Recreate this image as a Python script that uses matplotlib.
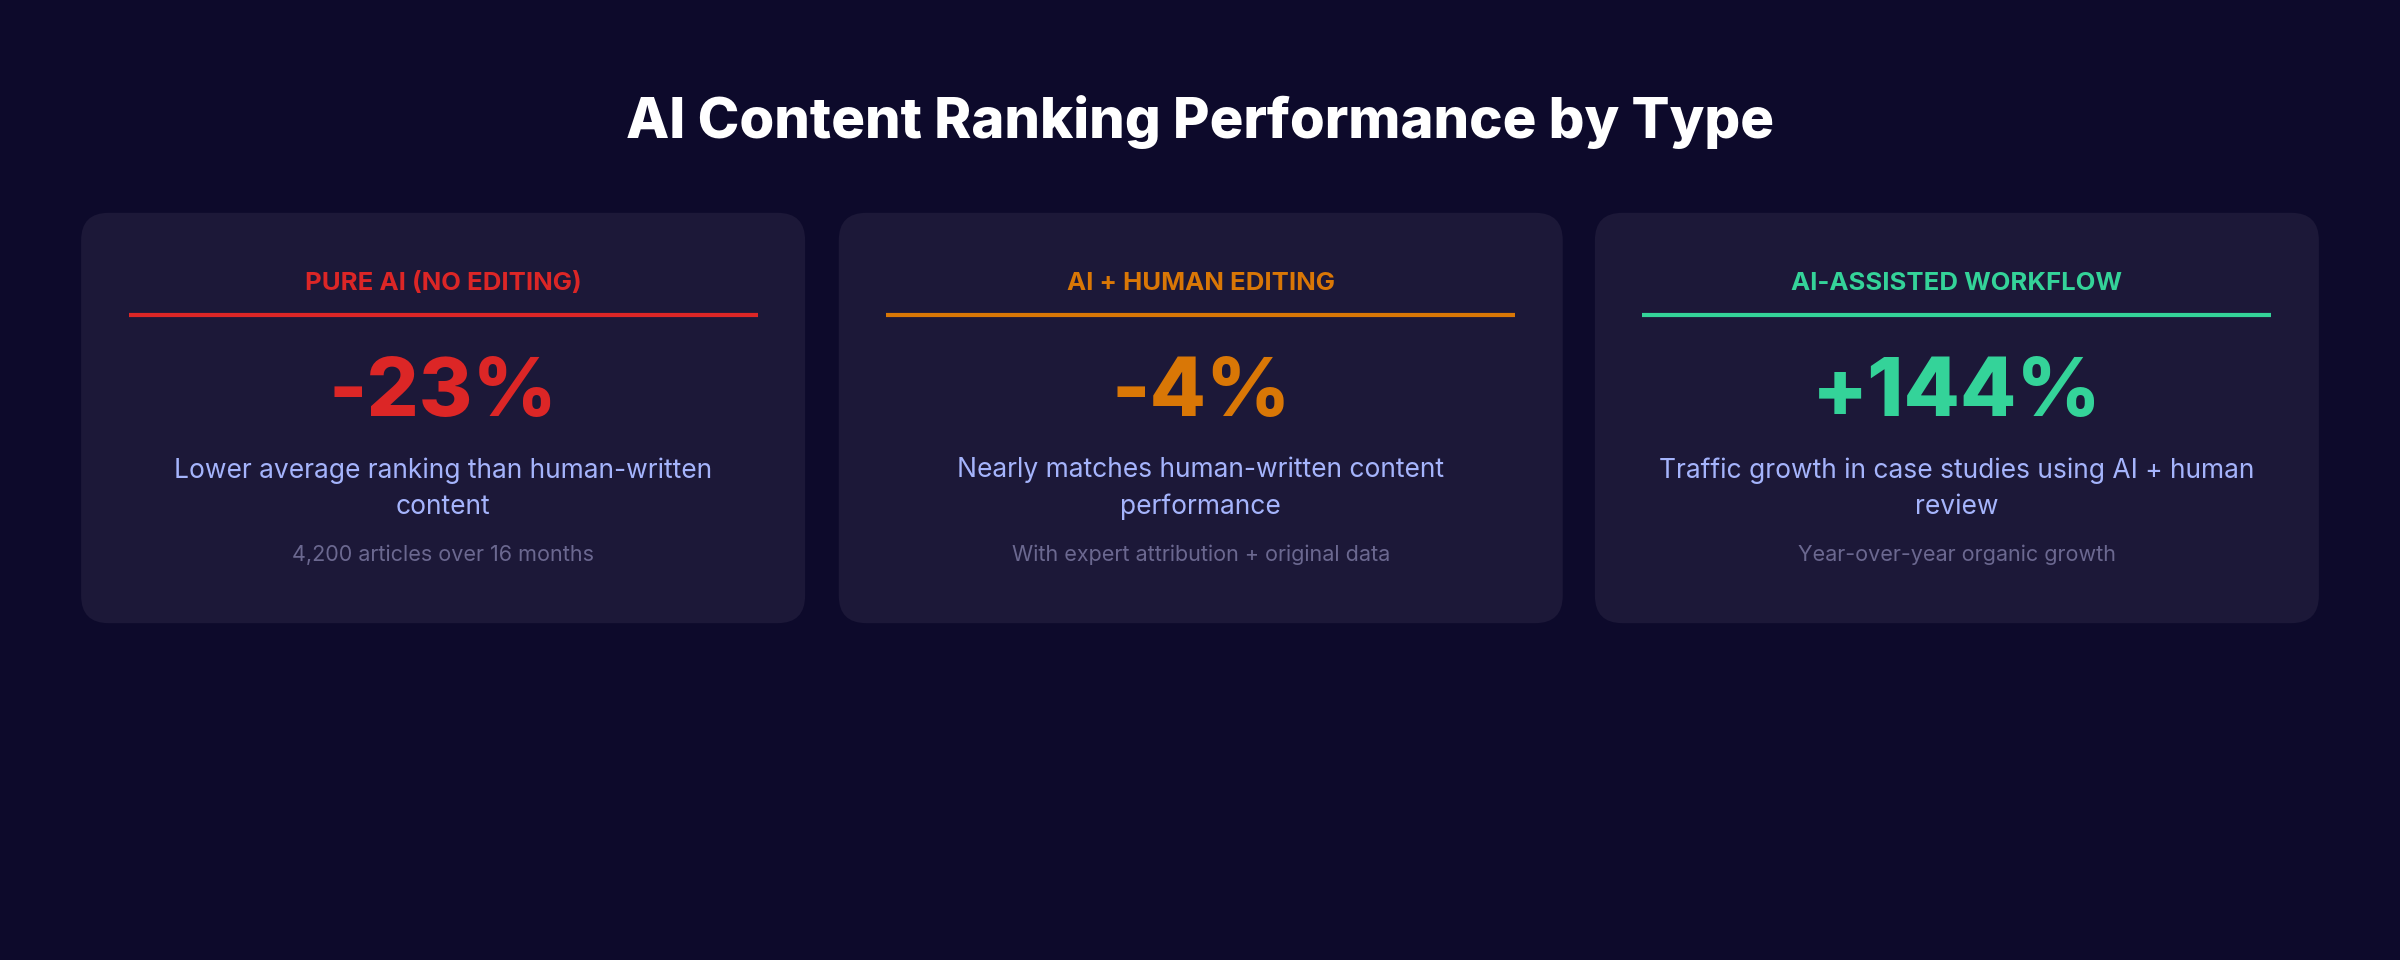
import matplotlib
matplotlib.use("Agg")
import matplotlib.pyplot as plt
from matplotlib.patches import FancyBboxPatch

title = "AI Content Ranking Performance by Type"
categories = ["PURE AI (NO EDITING)", "AI + HUMAN EDITING", "AI-ASSISTED WORKFLOW"]
values = [-23, -4, 144]
descriptions = ["Lower average ranking than human-written\ncontent",
                "Nearly matches human-written content\nperformance",
                "Traffic growth in case studies using AI + human\nreview"]
notes = ["4,200 articles over 16 months",
         "With expert attribution + original data",
         "Year-over-year organic growth"]
colors = ["#dc2626", "#d97706", "#34d399"]

plt.rcParams['font.family'] = ['Inter', 'DejaVu Sans']
BG = "#0d0a2b"
fig = plt.figure(figsize=(24, 9.6), dpi=100, facecolor=BG)
ax = fig.add_axes([0, 0, 1, 1])
ax.set_xlim(0, 1568); ax.set_ylim(627, 0); ax.axis('off')
ax.set_facecolor(BG)

ax.text(784, 80, title, ha='center', va='center', color='white', fontsize=40.5, fontweight='heavy')

lefts = [53, 548, 1042]
w = 473
for i, (cat, v, d, n, c) in enumerate(zip(categories, values, descriptions, notes, colors)):
    x0 = lefts[i]
    cx = x0 + w / 2
    ax.add_patch(FancyBboxPatch((x0 + 18, 139 + 18), w - 36, 268 - 36,
                                boxstyle="round,pad=18", fc="#1c1838", ec='none'))
    ax.text(cx, 185, cat, ha='center', va='center', color=c, fontsize=18.5,
            fontweight='bold')
    ax.plot([x0 + 31, x0 + w - 31], [206, 206], color=c, lw=3, solid_capstyle='butt')
    ax.text(cx, 258, f"{v:+d}%", ha='center', va='center', color=c, fontsize=59,
            fontweight='heavy')
    ax.text(cx, 319, d, ha='center', va='center', color="#a5b4fc", fontsize=19,
            linespacing=1.5)
    ax.text(cx, 362, n, ha='center', va='center', color="#6b6890", fontsize=15.5)

fig.savefig("out.png", dpi=100, facecolor=BG)
